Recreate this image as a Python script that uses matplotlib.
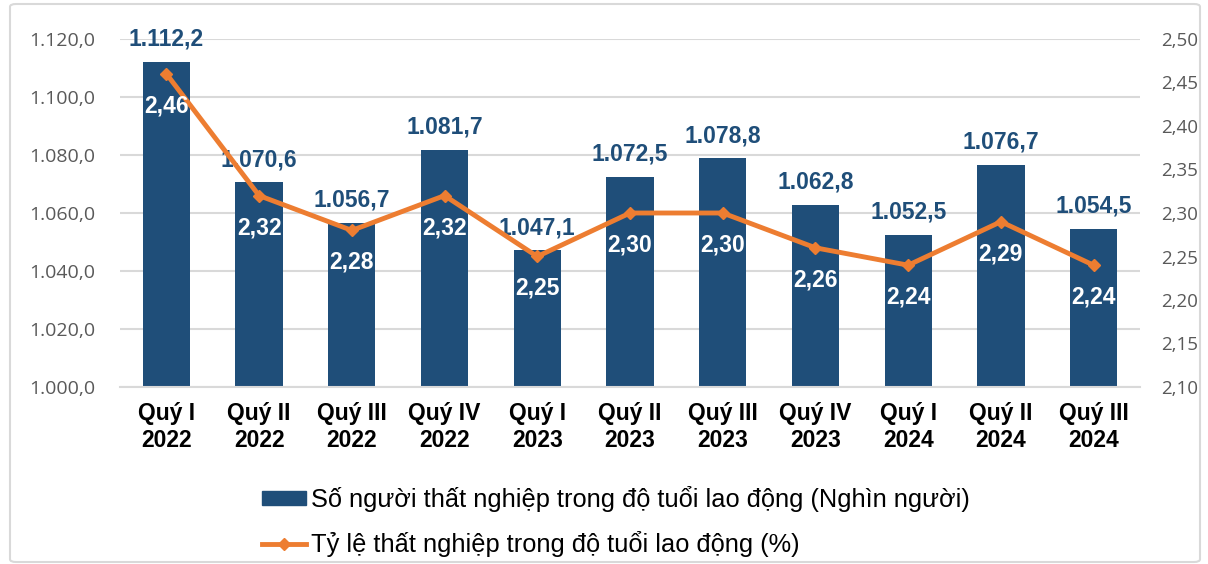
import matplotlib
matplotlib.use("Agg")
import matplotlib.pyplot as plt
from matplotlib.lines import Line2D
from matplotlib.patches import Patch, FancyBboxPatch

categories = ["Quý I\n2022", "Quý II\n2022", "Quý III\n2022", "Quý IV\n2022",
              "Quý I\n2023", "Quý II\n2023", "Quý III\n2023", "Quý IV\n2023",
              "Quý I\n2024", "Quý II\n2024", "Quý III\n2024"]
unemployed = [1112.2, 1070.6, 1056.7, 1081.7, 1047.1, 1072.5, 1078.8, 1062.8, 1052.5, 1076.7, 1054.5]
rate = [2.46, 2.32, 2.28, 2.32, 2.25, 2.30, 2.30, 2.26, 2.24, 2.29, 2.24]
left_ticks = [1000, 1020, 1040, 1060, 1080, 1100, 1120]
right_ticks = [2.10, 2.15, 2.20, 2.25, 2.30, 2.35, 2.40, 2.45, 2.50]

bar_color = "#1F4E79"
line_color = "#ED7D31"

def vn(v, d):
    s = f"{v:,.{d}f}"
    return s.replace(",", "X").replace(".", ",").replace("X", ".")

fig = plt.figure(figsize=(12.08, 5.64), dpi=100)
fig.patches.append(FancyBboxPatch((10/1208, 2/564), 1190/1208, 558/564,
                                  boxstyle="round,pad=0,rounding_size=0.005",
                                  transform=fig.transFigure, fill=False,
                                  edgecolor="#D9D9D9", linewidth=1.5))
ax = fig.add_axes([120/1208, 1 - 387/564, 1020/1208, 348/564])
ax2 = ax.twinx()

x = list(range(len(categories)))
ax.bar(x, unemployed, width=0.51, color=bar_color, zorder=2)
ax.set_ylim(1000, 1120)
ax.set_xlim(-0.5, len(categories) - 0.5)
ax.set_yticks(left_ticks)
ax.set_yticklabels([vn(v, 1) for v in left_ticks], color="#595959", fontsize=14,
                   family="Open Sans")
ax.grid(axis="y", color="#D9D9D9", linewidth=1.5, zorder=0)
ax.set_axisbelow(True)
for s in ["top", "left", "right"]:
    ax.spines[s].set_visible(False)
ax.spines["bottom"].set_color("#D9D9D9")
ax.spines["bottom"].set_linewidth(1.5)
ax.tick_params(axis="y", length=0, pad=18)
ax.tick_params(axis="x", length=0, pad=11)
ax.set_xticks(x)
ax.set_xticklabels(categories, fontsize=16.5, fontweight="bold",
                   family="Liberation Sans", linespacing=1.2)

for xi, v in zip(x, unemployed):
    ax.annotate(vn(v, 1), (xi, v), xytext=(0, 8), textcoords="offset points",
                ha="center", va="bottom", color=bar_color, fontsize=16.5,
                fontweight="bold", family="Liberation Sans")

ax2.plot(x, rate, color=line_color, linewidth=3.5, marker="D", markersize=6,
         zorder=3)
ax2.set_ylim(2.10, 2.50)
ax2.set_yticks(right_ticks)
ax2.set_yticklabels([vn(v, 2) for v in right_ticks], color="#595959", fontsize=13.5,
                    family="Open Sans")
for s in ["top", "left", "right", "bottom"]:
    ax2.spines[s].set_visible(False)
ax2.tick_params(axis="y", length=0, pad=15)

for xi, r in zip(x, rate):
    ax2.annotate(vn(r, 2), (xi, r), xytext=(0, -23), textcoords="offset points",
                 ha="center", va="center", color="white", fontsize=16.5,
                 fontweight="bold", family="Liberation Sans")

handles = [Patch(facecolor=bar_color, edgecolor=bar_color),
           Line2D([0], [0], color=line_color, linewidth=3.5, marker="D", markersize=6)]
labels = ["Số người thất nghiệp trong độ tuổi lao động (Nghìn người)",
          "Tỷ lệ thất nghiệp trong độ tuổi lao động (%)"]
fig.legend(handles, labels, loc="upper left", bbox_to_anchor=(244/1208, 1 - 468/564),
           frameon=False, prop={"family": "Liberation Sans", "size": 18.3},
           handlelength=1.75, handleheight=0.5, handletextpad=0.2, labelspacing=0.75,
           borderpad=0.2)

fig.savefig("out.png", dpi=100)
